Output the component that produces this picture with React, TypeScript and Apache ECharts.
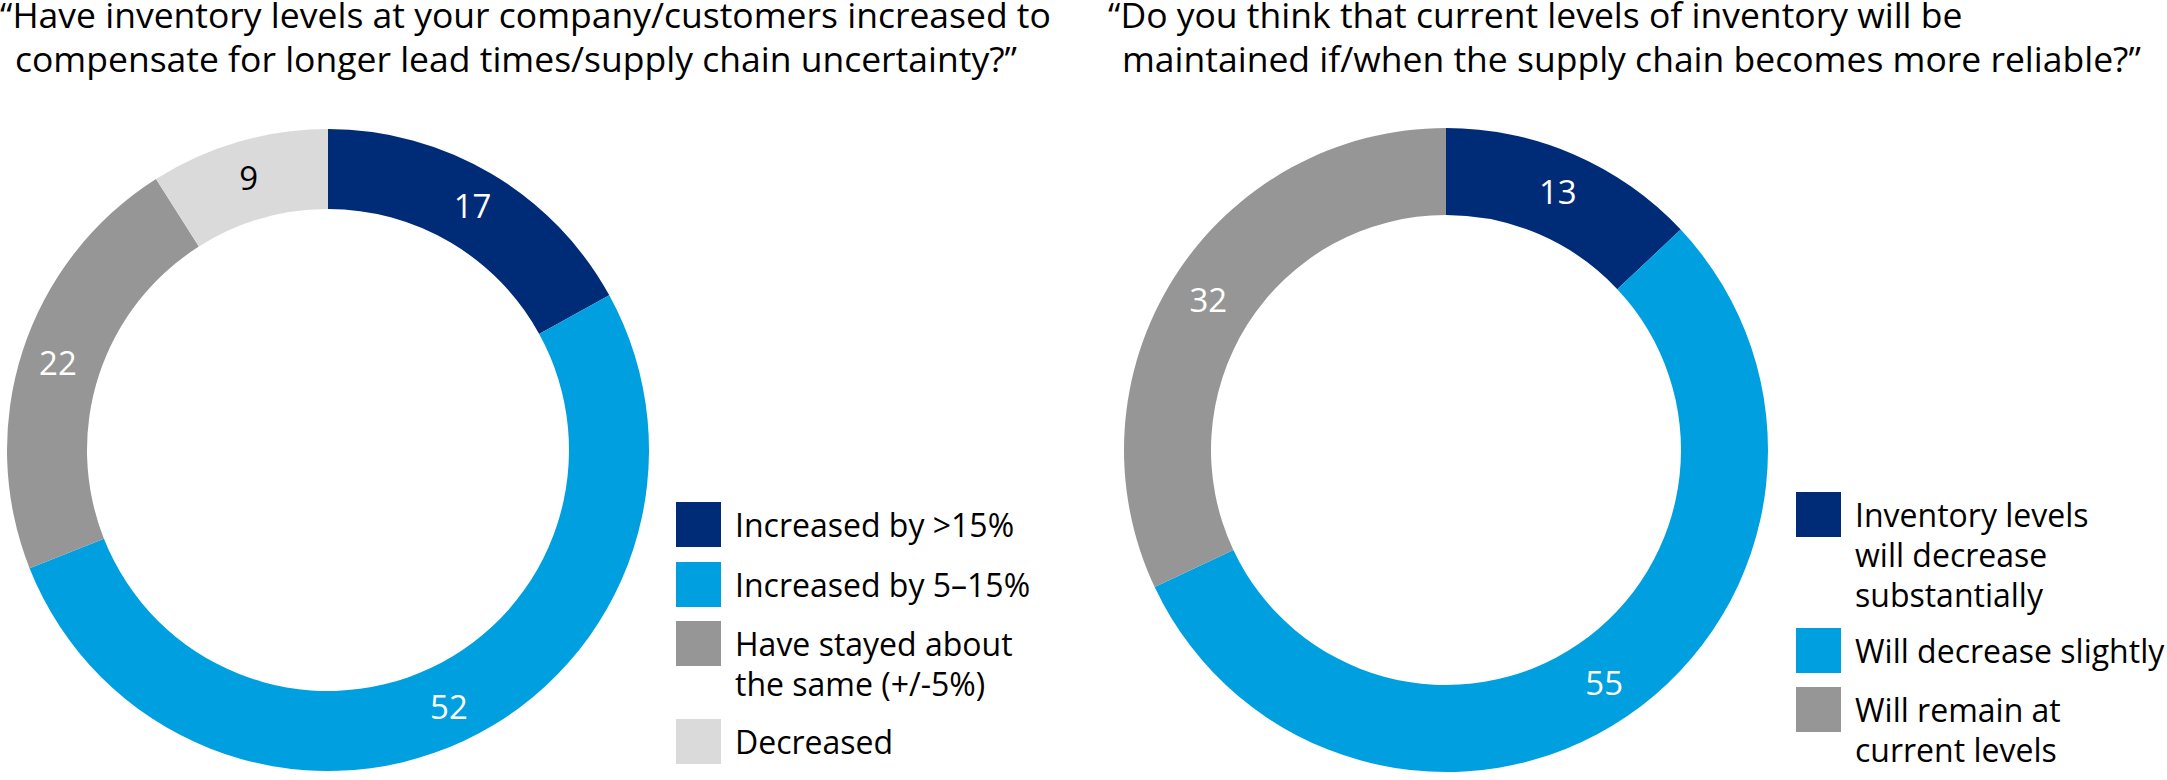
import { useEffect, useRef } from 'react'
import * as echarts from 'echarts'

const FONT = '"Open Sans", "Noto Sans", sans-serif'

const leftTitle = [
  '“Have inventory levels at your company/customers increased to',
  'compensate for longer lead times/supply chain uncertainty?”',
]
const leftNames = [
  'Increased by >15%',
  'Increased by 5–15%',
  'Have stayed about\nthe same (+/-5%)',
  'Decreased',
]
const leftValues = [17, 52, 22, 9]

const rightTitle = [
  '“Do you think that current levels of inventory will be',
  'maintained if/when the supply chain becomes more reliable?”',
]
const rightNames = [
  'Inventory levels\nwill decrease\nsubstantially',
  'Will decrease slightly',
  'Will remain at\ncurrent levels',
]
const rightValues = [13, 55, 32]

const NAVY = '#002c77'
const BLUE = '#00a0e0'
const GRAY = '#969696'
const LIGHT = '#dadada'
const leftColors = [NAVY, BLUE, GRAY, LIGHT]
const rightColors = [NAVY, BLUE, GRAY]

const LINE_H = 40
const ICON = 45

// square sits at the top; a zero-area point stretches the icon box so that
// multi-line text starts level with the square
function iconFor(name: string) {
  const lines = name.split('\n').length
  const h = ICON + (lines - 1) * LINE_H
  return { h, icon: `path://M0,0H45V45H0Z M0,${h}L0.01,${h}` }
}

function legendItems(names: string[], left: number, tops: number[]) {
  return names.map((name, i) => {
    const { h, icon } = iconFor(name)
    return {
      data: [name],
      left,
      top: tops[i],
      orient: 'vertical',
      padding: 0,
      itemWidth: ICON,
      itemHeight: h,
      icon,
      selectedMode: false,
      itemStyle: { borderWidth: 0 },
      textStyle: {
        color: '#000',
        fontSize: 32,
        fontFamily: FONT,
        lineHeight: LINE_H,
        padding: [0, 0, 0, 9],
      },
    }
  })
}

function donut(
  names: string[],
  values: number[],
  colors: string[],
  center: [number, number],
  radius: [number, number],
) {
  return {
    type: 'pie',
    center,
    radius,
    startAngle: 90,
    clockwise: true,
    silent: true,
    avoidLabelOverlap: false,
    label: {
      show: true,
      position: 'inside',
      formatter: '{c}',
      color: '#fff',
      fontSize: 33,
      fontFamily: FONT,
      fontWeight: 'normal',
    },
    labelLine: { show: false },
    itemStyle: { borderWidth: 0 },
    emphasis: { disabled: true },
    data: names.map((name, i) => ({
      name,
      value: values[i],
      itemStyle: { color: colors[i] },
      label: colors[i] === LIGHT ? { color: '#000' } : undefined,
    })),
  }
}

const titleStyle = {
  color: '#000',
  fontSize: 35.5,
  lineHeight: 28,
  fontWeight: 'normal',
  fontFamily: FONT,
}

export default function App() {
  const chartRef = useRef<HTMLDivElement>(null)

  useEffect(() => {
    if (!chartRef.current) return
    document.body.style.margin = '0'

    const chart = echarts.init(chartRef.current, undefined, { renderer: 'svg' })

    chart.setOption({
      animation: false,
      title: [
        { text: leftTitle[0], left: 0, top: 0, padding: 0, textStyle: titleStyle },
        { text: leftTitle[1], left: 15, top: 44, padding: 0, textStyle: titleStyle },
        { text: rightTitle[0], left: 1108, top: 0, padding: 0, textStyle: titleStyle },
        { text: rightTitle[1], left: 1122, top: 44, padding: 0, textStyle: titleStyle },
      ],
      legend: [
        ...legendItems(leftNames, 676, [502, 562, 621, 719]),
        ...legendItems(rightNames, 1796, [492, 628, 687]),
      ],
      series: [
        donut(leftNames, leftValues, leftColors, [328, 450], [241, 321]),
        donut(rightNames, rightValues, rightColors, [1446, 450], [235, 322]),
      ],
    })

    return () => {
      chart.dispose()
    }
  }, [])

  return <div ref={chartRef} style={{ width: '2167px', height: '780px' }} />
}
